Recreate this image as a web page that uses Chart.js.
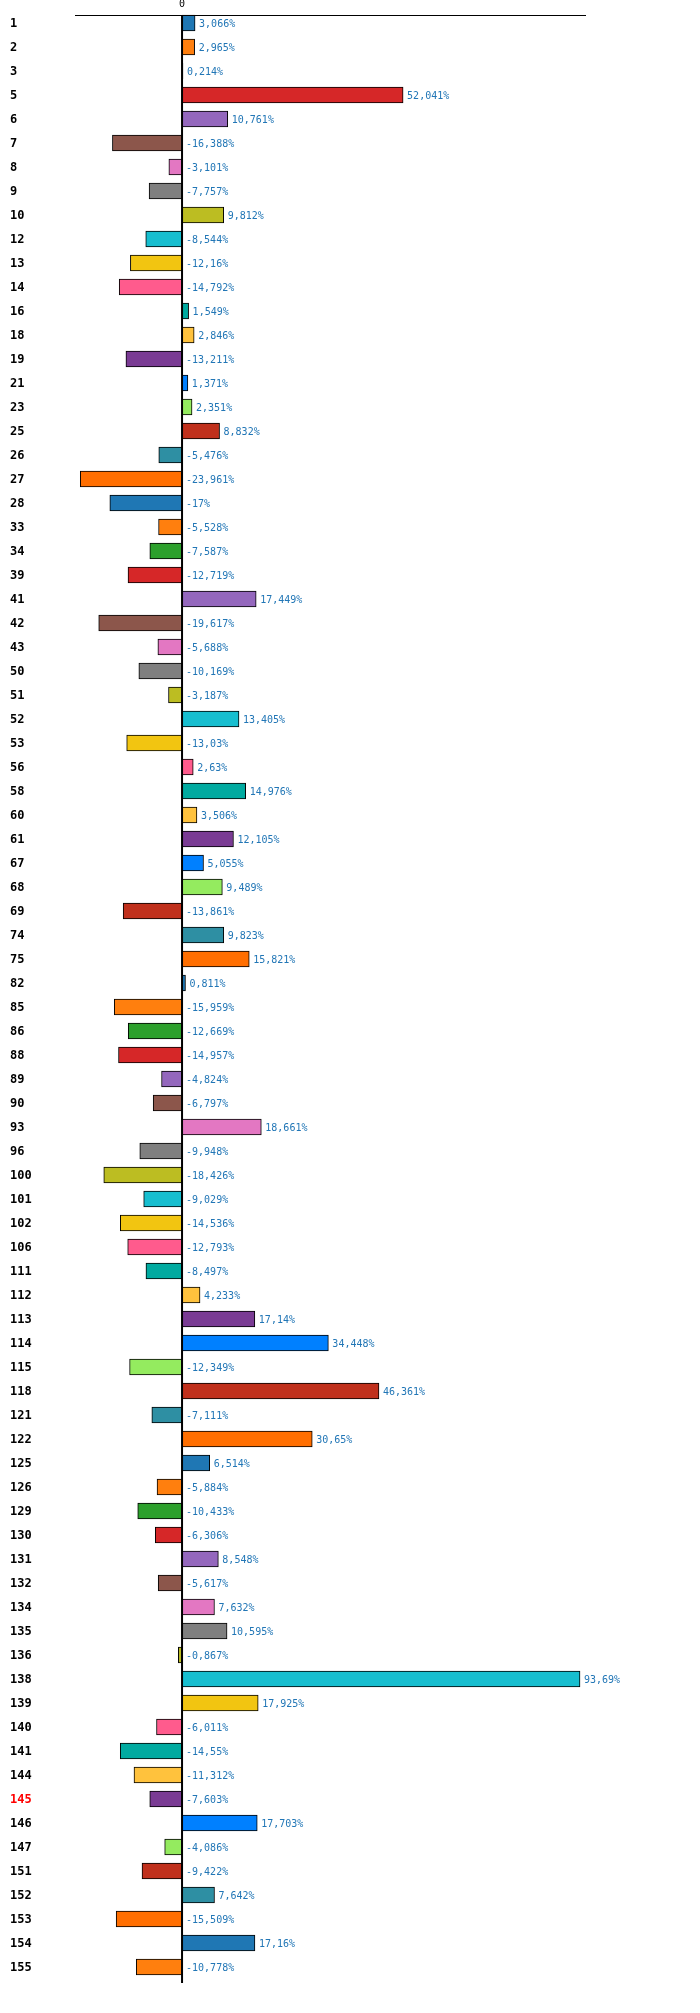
<!DOCTYPE html>
<html>
<head>
<meta charset="utf-8">
<script src="https://cdn.jsdelivr.net/npm/chart.js@4/dist/chart.umd.min.js"></script>
<style>
html,body{margin:0;padding:0;background:#fff;}
canvas{display:block;}
</style>
</head>
<body>
<canvas id="c" width="700" height="2013"></canvas>
<script>
const categories = ["1","2","3","5","6","7","8","9","10","12","13","14","16","18","19","21","23","25","26","27","28","33","34","39","41","42","43","50","51","52","53","56","58","60","61","67","68","69","74","75","82","85","86","88","89","90","93","96","100","101","102","106","111","112","113","114","115","118","121","122","125","126","129","130","131","132","134","135","136","138","139","140","141","144","145","146","147","151","152","153","154","155"];
const values = [3.066,2.965,0.214,52.041,10.761,-16.388,-3.101,-7.757,9.812,-8.544,-12.16,-14.792,1.549,2.846,-13.211,1.371,2.351,8.832,-5.476,-23.961,-17,-5.528,-7.587,-12.719,17.449,-19.617,-5.688,-10.169,-3.187,13.405,-13.03,2.63,14.976,3.506,12.105,5.055,9.489,-13.861,9.823,15.821,0.811,-15.959,-12.669,-14.957,-4.824,-6.797,18.661,-9.948,-18.426,-9.029,-14.536,-12.793,-8.497,4.233,17.14,34.448,-12.349,46.361,-7.111,30.65,6.514,-5.884,-10.433,-6.306,8.548,-5.617,7.632,10.595,-0.867,93.69,17.925,-6.011,-14.55,-11.312,-7.603,17.703,-4.086,-9.422,7.642,-15.509,17.16,-10.778];
const highlighted = ["145"];
const xTicks = [0];
const palette = ["#1f77b4","#ff7f0e","#2ca02c","#d62728","#9467bd","#8c564b","#e377c2","#7f7f7f","#bcbd22","#17becf",
                 "#f2c511","#ff5b8d","#00aaa0","#ffc23d","#7a3b94","#0080ff","#94eb5f","#c0301c","#2e8fa3","#ff6e00"];

function fmt(v){ return String(v).replace('.', ',') + '%'; }

const overlay = {
  id: 'overlay',
  afterDatasetsDraw(chart){
    const ctx = chart.ctx;
    const xs = chart.scales.x, ys = chart.scales.y;
    const zx = xs.getPixelForValue(0);
    const band = ys.getPixelForValue(1) - ys.getPixelForValue(0);
    const top = Math.round(ys.getPixelForValue(0) - 8);
    const bottom = top + band * categories.length;
    ctx.save();
    ctx.strokeStyle = '#000';
    ctx.lineWidth = 1;
    ctx.beginPath();
    ctx.moveTo(xs.left, top + 0.5);
    ctx.lineTo(xs.right, top + 0.5);
    ctx.stroke();
    ctx.lineWidth = 2;
    ctx.beginPath();
    ctx.moveTo(zx, top);
    ctx.lineTo(zx, bottom);
    ctx.stroke();
    ctx.fillStyle = '#2176b6';
    ctx.font = '10px "DejaVu Sans Mono", monospace';
    ctx.textAlign = 'left';
    ctx.textBaseline = 'middle';
    const meta = chart.getDatasetMeta(0);
    meta.data.forEach((el, i) => {
      const x = Math.max(el.x, zx) + 4;
      ctx.fillText(fmt(values[i]), x, el.y + 1);
    });
    ctx.restore();
  }
};

new Chart(document.getElementById('c'), {
  type: 'bar',
  data: {
    labels: categories,
    datasets: [{
      data: values,
      backgroundColor: values.map((v, i) => palette[i % palette.length]),
      borderColor: '#000',
      borderWidth: 1,
      borderSkipped: false,
      barThickness: 16
    }]
  },
  options: {
    indexAxis: 'y',
    responsive: false,
    animation: false,
    layout: { padding: { left: 10, right: 114, top: 0, bottom: 34 } },
    plugins: { legend: { display: false }, tooltip: { enabled: false } },
    scales: {
      x: {
        type: 'linear',
        position: 'top',
        min: -25.2,
        max: 95.1,
        grid: { display: false, drawTicks: false },
        border: { display: false },
        afterBuildTicks(scale){ scale.ticks = xTicks.map(v => ({ value: v })); },
        afterFit(scale){ scale.height = 11; },
        ticks: {
          padding: 1,
          color: '#000',
          font: { family: '"DejaVu Sans Mono", monospace', size: 10 },
          callback: v => String(v)
        }
      },
      y: {
        type: 'category',
        offset: true,
        grid: { display: false, drawTicks: false },
        border: { display: false },
        afterFit(scale){ scale.width = 65; },
        ticks: {
          autoSkip: false,
          crossAlign: 'far',
          padding: 0,
          labelOffset: 1,
          font: { family: '"DejaVu Sans Mono", monospace', size: 12, weight: 'bold' },
          color: ctx => highlighted.includes(categories[ctx.index]) ? '#ff0000' : '#000'
        }
      }
    }
  },
  plugins: [overlay]
});
</script>
</body>
</html>
